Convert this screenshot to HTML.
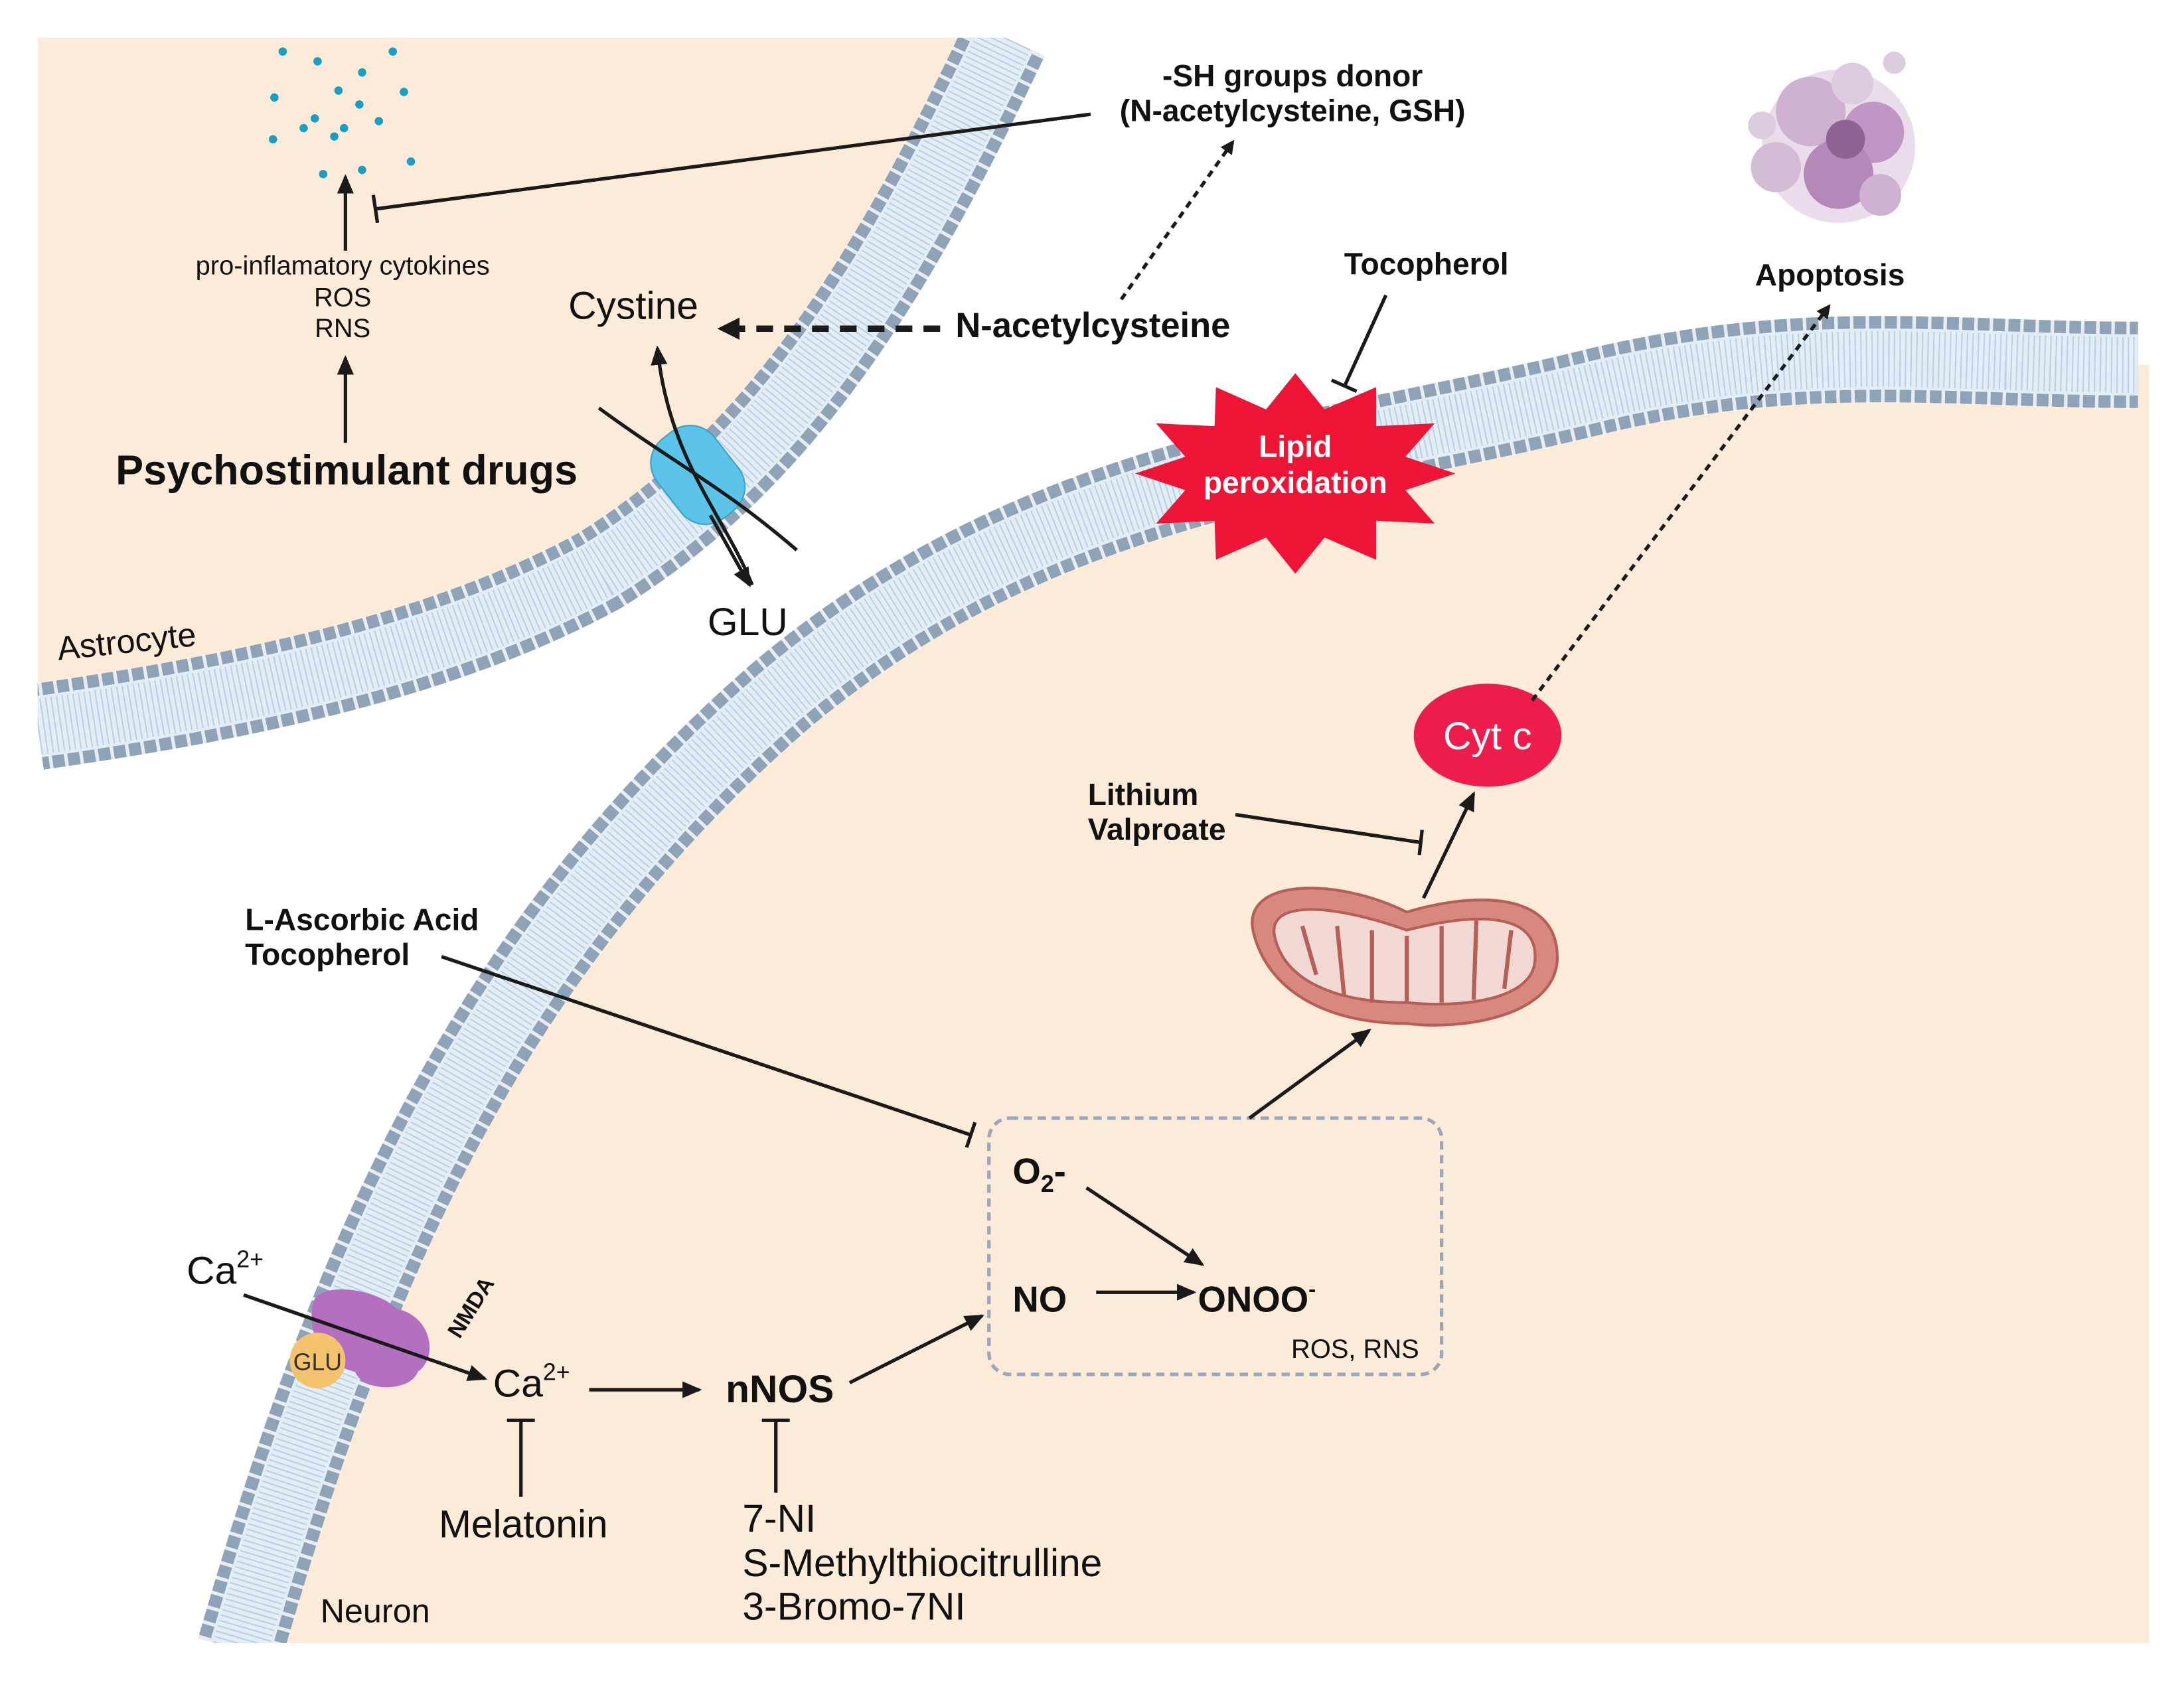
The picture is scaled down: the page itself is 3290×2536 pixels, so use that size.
<!DOCTYPE html>
<html><head><meta charset="utf-8"><style>
html,body{margin:0;padding:0;background:#fff;}
svg{display:block;}
text{font-family:"Liberation Sans",sans-serif;}
</style></head><body>
<svg width="3290" height="2536" viewBox="0 0 1568 1208.6" xmlns="http://www.w3.org/2000/svg">
<defs>
<marker id="ah" markerWidth="10" markerHeight="10" refX="8" refY="5" orient="auto" markerUnits="userSpaceOnUse" viewBox="0 0 10 10"><path d="M0,0 L10,5 L0,10 z" fill="#1a1a1a"/></marker>
<marker id="ahb" markerWidth="16" markerHeight="16" refX="14" refY="8" orient="auto" markerUnits="userSpaceOnUse" viewBox="0 0 16 16"><path d="M0,0 L16,8 L0,16 z" fill="#1a1a1a"/></marker>
<marker id="ahm" markerWidth="14" markerHeight="14" refX="12" refY="7" orient="auto" markerUnits="userSpaceOnUse" viewBox="0 0 14 14"><path d="M0,1 L14,7 L0,13 z" fill="#1a1a1a"/></marker>
</defs>
<rect width="1568" height="1209" fill="#fff"/>
<!-- astrocyte region -->
<path d="M722 27 C640 200,560 330,430 410 C320 470,180 500,27 522 L27 27 Z" fill="#fdebd9"/>
<!-- neuron region -->
<path d="M172 1185 C240 950,330 700,560 500 C750 340,950 330,1150 280 C1300 245,1400 262,1535 262 L1543 262 L1543 1180 L150 1180 Z" fill="#fdebd9"/>
<!-- membranes -->
<g fill="none">
<path id="m1" d="M722 27 C640 200,560 330,430 410 C320 470,180 500,27 522" stroke="#8fa3b8" stroke-width="62"/>
<path d="M722 27 C640 200,560 330,430 410 C320 470,180 500,27 522" stroke="#fff" stroke-width="63" stroke-dasharray="2.5 8.5" opacity="0.8"/>
<path d="M722 27 C640 200,560 330,430 410 C320 470,180 500,27 522" stroke="#e2edf6" stroke-width="44"/>
<path d="M722 27 C640 200,560 330,430 410 C320 470,180 500,27 522" stroke="#bcd0e3" stroke-width="40" stroke-dasharray="1 3"/>
<path d="M172 1185 C240 950,330 700,560 500 C750 340,950 330,1150 280 C1300 245,1400 262,1535 262" stroke="#8fa3b8" stroke-width="62"/>
<path d="M172 1185 C240 950,330 700,560 500 C750 340,950 330,1150 280 C1300 245,1400 262,1535 262" stroke="#fff" stroke-width="63" stroke-dasharray="2.5 8.5" opacity="0.8"/>
<path d="M172 1185 C240 950,330 700,560 500 C750 340,950 330,1150 280 C1300 245,1400 262,1535 262" stroke="#e2edf6" stroke-width="44"/>
<path d="M172 1185 C240 950,330 700,560 500 C750 340,950 330,1150 280 C1300 245,1400 262,1535 262" stroke="#bcd0e3" stroke-width="40" stroke-dasharray="1 3"/>
</g>
<!-- clip bottom/edges -->
<rect x="0" y="1180" width="1568" height="30" fill="#fff"/>
<rect x="0" y="0" width="27" height="1209" fill="#fff"/>
<rect x="1543" y="0" width="30" height="1209" fill="#fff"/>
<rect x="0" y="0" width="1568" height="27" fill="#fff"/>

<!-- cyan dots -->
<g fill="#1a9fc4">
<circle cx="203" cy="37" r="3"/><circle cx="228" cy="44" r="3"/><circle cx="282" cy="37" r="3"/><circle cx="197" cy="70" r="3"/><circle cx="243" cy="65" r="3"/><circle cx="260" cy="52" r="3"/><circle cx="226" cy="85" r="3"/><circle cx="258" cy="75" r="3"/><circle cx="290" cy="66" r="3"/><circle cx="218" cy="92" r="3"/><circle cx="247" cy="92" r="3"/><circle cx="272" cy="87" r="3"/><circle cx="196" cy="100" r="3"/><circle cx="240" cy="98" r="3"/><circle cx="232" cy="125" r="3"/><circle cx="260" cy="122" r="3"/><circle cx="295" cy="116" r="3"/>
</g>

<!-- apoptosis blob -->
<g opacity="0.85">
<circle cx="1320" cy="105" r="55" fill="#e6d6e8"/>
<circle cx="1300" cy="80" r="25" fill="#c7a4c9"/>
<circle cx="1345" cy="95" r="22" fill="#b585b8"/>
<circle cx="1320" cy="125" r="25" fill="#a974ad"/>
<circle cx="1275" cy="120" r="18" fill="#cdb0cf"/>
<circle cx="1350" cy="140" r="15" fill="#c7a4c9"/>
<circle cx="1330" cy="60" r="15" fill="#d8c2da"/>
<circle cx="1325" cy="100" r="14" fill="#7a4a80"/>
<circle cx="1360" cy="45" r="8" fill="#d8c2da"/>
<circle cx="1265" cy="90" r="10" fill="#d8c2da"/>
</g>

<!-- transporter -->
<rect x="475" y="305" width="52" height="72" rx="22" fill="#5bc4e8" stroke="#3aa3c8" transform="rotate(-38 501 341)"/>
<path d="M430 293 C480 330,520 350,572 395" stroke="#1a1a1a" stroke-width="2.5" fill="none"/>
<path d="M540 420 C520 370,480 330,472 250" stroke="#1a1a1a" stroke-width="2.5" fill="none" marker-end="url(#ahm)"/>
<path d="M472 250 C485 310,515 350,540 425" stroke="none" fill="none"/>
<path d="M480 248 C490 330,525 360,538 425" stroke="#1a1a1a" stroke-width="2.5" fill="none" marker-end="url(#ahm)" opacity="0"/>
<line x1="510" y1="370" x2="538" y2="420" stroke="#1a1a1a" stroke-width="2.5" marker-end="url(#ahm)"/>

<!-- starburst -->
<polygon fill="#ee1436" points="1045,340 1009,352 1030,376 988,374 988,402 951,386 930,412 909,386 873,402 872,374 830,376 851,352 815,340 851,328 830,304 872,306 873,278 909,294 930,268 951,294 988,278 988,306 1030,304 1009,328"/>
<text x="930" y="328" font-size="22" font-weight="bold" fill="#fff" text-anchor="middle">Lipid</text>
<text x="930" y="354" font-size="22" font-weight="bold" fill="#fff" text-anchor="middle">peroxidation</text>

<!-- cyt c -->
<ellipse cx="1068" cy="528" rx="53" ry="37" fill="#ee1c4a"/>
<text x="1068" y="538" font-size="28" fill="#fff" text-anchor="middle">Cyt c</text>

<!-- mitochondrion -->
<path d="M900 670 C890 630,960 630,1010 655 C1060 640,1120 640,1118 690 C1115 730,1050 740,1010 735 C950 735,910 710,900 670 Z" fill="#d98880" stroke="#b65f57" stroke-width="2"/>
<path d="M915 672 C910 645,960 650,1010 668 C1060 655,1105 655,1102 690 C1100 718,1050 724,1010 720 C960 720,922 705,915 672 Z" fill="#f3d9d3" stroke="#b65f57" stroke-width="2"/>
<g stroke="#b65f57" stroke-width="3" fill="none">
<path d="M935 665 L945 700"/><path d="M960 665 L965 715"/><path d="M985 668 L985 720"/><path d="M1010 672 L1010 720"/><path d="M1035 665 L1035 720"/><path d="M1060 660 L1058 718"/><path d="M1085 668 L1080 710"/>
</g>

<!-- NMDA -->
<path d="M225 935 C230 920,270 925,285 940 C310 945,315 975,300 985 C295 1000,260 1000,255 985 C230 980,220 955,225 935 Z" fill="#b46fc0"/>
<circle cx="228" cy="977" r="20" fill="#f3c46d"/>
<text x="228" y="984" font-size="17" fill="#333" text-anchor="middle">GLU</text>
<text x="0" y="0" font-size="16" font-weight="bold" fill="#111" transform="translate(330 962) rotate(-58)">NMDA</text>

<!-- dashed box -->
<rect x="710" y="803" width="325" height="184" rx="15" fill="none" stroke="#9aa8bd" stroke-width="2.5" stroke-dasharray="6 4"/>

<!-- lines & arrows -->
<g stroke="#1a1a1a" stroke-width="2.5" fill="none">
<line x1="248" y1="180" x2="248" y2="127" marker-end="url(#ahm)"/>
<line x1="248" y1="318" x2="248" y2="257" marker-end="url(#ahm)"/>
<line x1="783" y1="82" x2="270" y2="150"/><line x1="268" y1="140" x2="271" y2="160"/>
<line x1="805" y1="215" x2="885" y2="102" stroke-dasharray="5 4" marker-end="url(#ah)"/>
<line x1="675" y1="236" x2="517" y2="236" stroke-width="4.5" stroke-dasharray="12 8" marker-end="url(#ahb)"/>
<line x1="995" y1="212" x2="965" y2="278"/><line x1="956" y1="273" x2="974" y2="281"/>
<line x1="1100" y1="503" x2="1313" y2="220" stroke-dasharray="5 4" marker-end="url(#ah)"/>
<line x1="887" y1="585" x2="1020" y2="605"/><line x1="1021" y1="596" x2="1019" y2="614"/>
<line x1="1022" y1="645" x2="1058" y2="570" marker-end="url(#ahm)"/>
<line x1="897" y1="803" x2="983" y2="740" marker-end="url(#ahm)"/>
<line x1="317" y1="687" x2="697" y2="815"/><line x1="700" y1="806" x2="694" y2="824"/>
<line x1="780" y1="853" x2="863" y2="908" marker-end="url(#ahm)"/>
<line x1="787" y1="928" x2="857" y2="928" marker-end="url(#ahm)"/>
<line x1="175" y1="930" x2="348" y2="990" marker-end="url(#ahm)"/>
<line x1="423" y1="998" x2="502" y2="998" marker-end="url(#ahm)"/>
<line x1="610" y1="993" x2="705" y2="945" marker-end="url(#ahm)"/>
<line x1="374" y1="1075" x2="374" y2="1020"/><line x1="364" y1="1020" x2="384" y2="1020"/>
<line x1="557" y1="1072" x2="557" y2="1020"/><line x1="547" y1="1020" x2="567" y2="1020"/>
</g>

<!-- text -->
<g fill="#111">
<text x="246" y="197" font-size="19" text-anchor="middle">pro-inflamatory cytokines</text>
<text x="246" y="220" font-size="19" text-anchor="middle">ROS</text>
<text x="246" y="242" font-size="19" text-anchor="middle">RNS</text>
<text x="83" y="348" font-size="30" font-weight="bold">Psychostimulant drugs</text>
<text x="408" y="229" font-size="28">Cystine</text>
<text x="686" y="242" font-size="25" font-weight="bold">N-acetylcysteine</text>
<text x="928" y="62" font-size="22" font-weight="bold" text-anchor="middle">-SH groups donor</text>
<text x="928" y="87" font-size="22" font-weight="bold" text-anchor="middle">(N-acetylcysteine, GSH)</text>
<text x="965" y="197" font-size="22" font-weight="bold">Tocopherol</text>
<text x="1260" y="205" font-size="22" font-weight="bold">Apoptosis</text>
<text x="508" y="456" font-size="28">GLU</text>
<text x="0" y="0" font-size="24" transform="translate(42 474) rotate(-6)">Astrocyte</text>
<text x="781" y="578" font-size="22" font-weight="bold">Lithium</text>
<text x="781" y="603" font-size="22" font-weight="bold">Valproate</text>
<text x="176" y="668" font-size="22" font-weight="bold">L-Ascorbic Acid</text>
<text x="176" y="693" font-size="22" font-weight="bold">Tocopherol</text>
<text x="727" y="850" font-size="26" font-weight="bold">O<tspan font-size="17" dy="6">2</tspan><tspan dy="-6">-</tspan></text>
<text x="727" y="942" font-size="26" font-weight="bold">NO</text>
<text x="860" y="942" font-size="26" font-weight="bold">ONOO<tspan font-size="16" dy="-11">-</tspan></text>
<text x="927" y="975" font-size="19">ROS, RNS</text>
<text x="134" y="922" font-size="28">Ca<tspan font-size="17" dy="-12">2+</tspan></text>
<text x="354" y="1003" font-size="28">Ca<tspan font-size="17" dy="-12">2+</tspan></text>
<text x="521" y="1007" font-size="28" font-weight="bold">nNOS</text>
<text x="315" y="1104" font-size="28">Melatonin</text>
<text x="533" y="1100" font-size="28">7-NI</text>
<text x="533" y="1132" font-size="28">S-Methylthiocitrulline</text>
<text x="533" y="1163" font-size="28">3-Bromo-7NI</text>
<text x="230" y="1165" font-size="24">Neuron</text>
</g>
</svg>
</body></html>
